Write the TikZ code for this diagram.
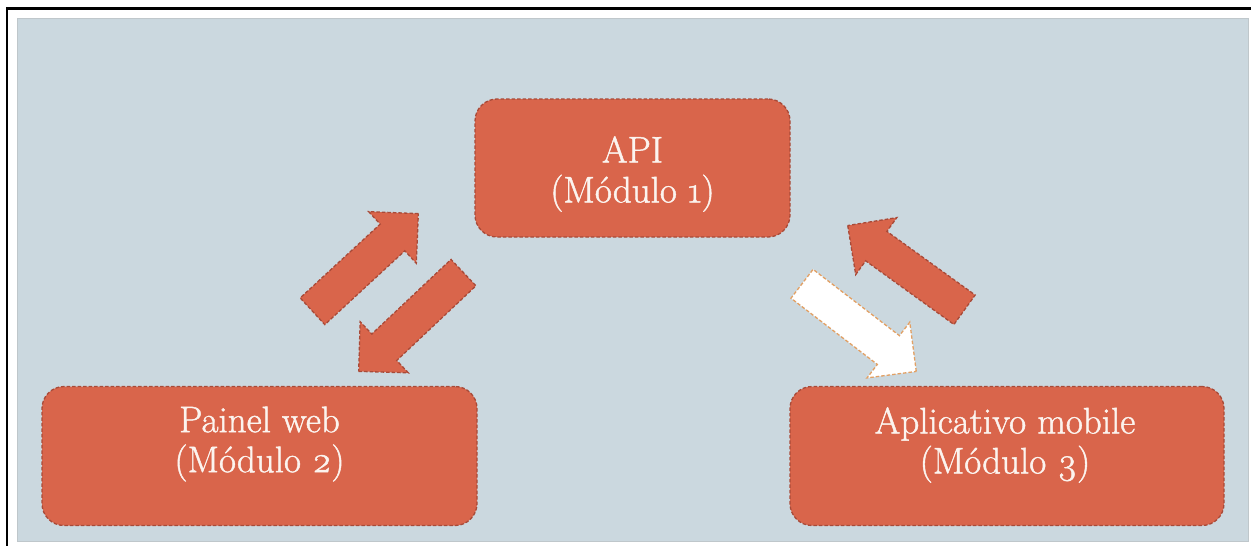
\documentclass[tikz,border=0pt]{standalone}
\usepackage{fontspec}
\usetikzlibrary{shapes.arrows}

% caption face: Latin Modern, slightly emboldened, old-style figures
\newfontfamily\captionface{Latin Modern Roman}[FakeBold=1.2, Numbers=OldStyle]

\definecolor{slidebg}{HTML}{CBD8DF}
\definecolor{slidebgrim}{HTML}{BFC7CB}
\definecolor{modfill}{HTML}{D9654B}
\definecolor{modrim}{HTML}{A84A38}
\definecolor{lightrim}{HTML}{E2A064}
\definecolor{modtext}{HTML}{FCF4EF}

\tikzset{
  modbox/.style={
    rectangle, rounded corners=22pt, fill=modfill, draw=modrim,
    line width=1.3pt, dash pattern=on 3.5pt off 2pt, inner sep=0pt
  },
  modlabel/.style={
    text=modtext, align=center, inner sep=0pt,
    font=\captionface\fontsize{37}{40}\selectfont
  },
  blockarrow/.style={
    single arrow, single arrow head extend=17pt, single arrow tip angle=90,
    minimum height=144pt, inner xsep=0pt, inner ysep=17.5pt,
    line width=1.3pt, dash pattern=on 3.5pt off 2pt, anchor=tip
  },
  fullarrow/.style={blockarrow, fill=modfill, draw=modrim},
  hollowarrow/.style={blockarrow, fill=white, draw=lightrim}
}

\begin{document}
\begin{tikzpicture}[x=1pt,y=-1pt]
\useasboundingbox (0,0) rectangle (1251,546);
\fill[white] (0,0) rectangle (1251,546);

% frame and slide background
\draw[line width=2.2pt] (7,546) -- (7,8.5) -- (1251,8.5);
\draw[fill=slidebg, draw=slidebgrim, line width=1pt] (17.5,18.5) rectangle (1248,541);

% modules
\node[modbox, minimum width=315pt, minimum height=138pt] (api) at (632.5,168) {};
\node[modbox, minimum width=435pt, minimum height=139pt] (web) at (259.5,456) {};
\node[modbox, minimum width=434pt, minimum height=139pt] (mobile) at (1007,456) {};

% module captions
\node[modlabel] (apitext) at ([yshift=-6pt]api.center)
  {API\\(Módulo 1)};
\node[modlabel] (webtext) at ([yshift=12pt]web.center)
  {Painel web\\(Módulo 2)};
\node[modlabel] (mobiletext) at ([xshift=-2pt,yshift=11pt]mobile.center)
  {Aplicativo mobile\\(Módulo 3)};

% exchange arrows
\node[fullarrow, rotate=42.7] (webup) at (419,213) {};
\node[fullarrow, rotate=223.3] (webdown) at (358,372) {};
\node[fullarrow, rotate=144.2] (mobup) at (847,225) {};
\node[hollowarrow, rotate=-37.5] (mobdown) at (917,372) {};
\end{tikzpicture}
\end{document}
